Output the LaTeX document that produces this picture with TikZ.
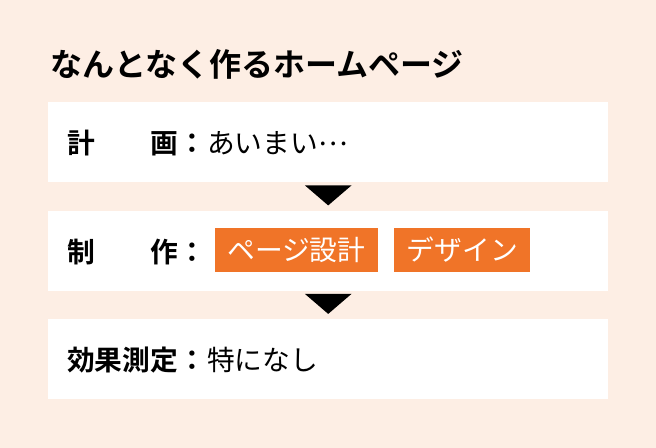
\documentclass[tikz,border=0pt]{standalone}
\usepackage{fontspec}
\setmainfont{Noto Sans CJK JP}[BoldFont={Noto Sans CJK JP Bold}]
\usetikzlibrary{calc}
\definecolor{bgpeach}{HTML}{FDEEE4}
\definecolor{accent}{HTML}{F07428}
\begin{document}
\begin{tikzpicture}[x=1bp,y=-1bp,
  panel/.style={fill=white, minimum width=560bp, minimum height=80bp, inner sep=0pt, anchor=north west},
  ttl/.style={font=\bfseries\fontsize{32bp}{36bp}\selectfont, anchor=west, inner sep=0pt, text height=26.56bp, text depth=2.24bp},
  lbl/.style={font=\bfseries\fontsize{27.75bp}{32bp}\selectfont, anchor=west, inner sep=0pt, text height=23.03bp, text depth=1.94bp},
  val/.style={font=\fontsize{27.75bp}{32bp}\selectfont, anchor=west, inner sep=0pt, text height=23.03bp, text depth=1.94bp},
  tag/.style={fill=accent, text=white, font=\fontsize{27.75bp}{32bp}\selectfont, anchor=west, inner xsep=12.6bp, inner ysep=0pt, minimum height=43.5bp, text height=23.03bp, text depth=1.94bp},
  marker/.style={fill=black}]
  \fill[bgpeach] (0,0) rectangle (656,448);
  \useasboundingbox (0,0) rectangle (656,448);

  \node[ttl] (title) at (50,64.5) {なんとなく作るホームページ};

  \node[panel, minimum height=80.5bp] (plan) at (48,101.5) {};
  \node[panel] (make) at (48,210.5) {};
  \node[panel] (meas) at (48,319) {};

  \node[lbl] (planL) at (67,143) {計　　画：};
  \node[val] (planV) at (207,143) {あいまい\raisebox{0.29em}{…}};

  \node[lbl] (makeL) at (67,251.5) {制　　作：};
  \node[tag] (tagA) at (214.5,250) {ページ設計};
  \node[tag] (tagB) at (394,250) {デザイン};

  \node[lbl] (measL) at (67,360) {効果測定：};
  \node[val] (measV) at (207,360) {特になし};

  \fill[marker] ($(plan.south)+(-23.3,3)$) -- ($(plan.south)+(23.3,3)$) -- ($(plan.south)+(0,23)$) -- cycle;
  \fill[marker] ($(make.south)+(-23.3,3)$) -- ($(make.south)+(23.3,3)$) -- ($(make.south)+(0,23)$) -- cycle;
\end{tikzpicture}
\end{document}
